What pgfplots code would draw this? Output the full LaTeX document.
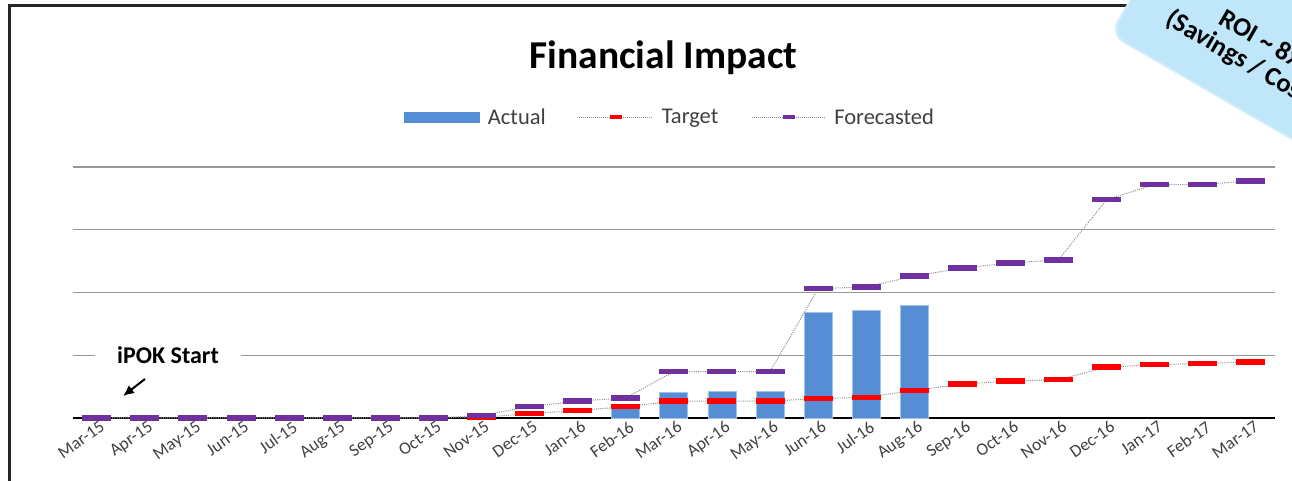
\documentclass[border=0pt]{standalone}
\usepackage{fontspec}
\setmainfont{Carlito}
\usepackage{pgfplots}
\pgfplotsset{compat=1.18}
\usepackage{pgfplotstable}
\usetikzlibrary{arrows.meta}

\definecolor{barblue}{RGB}{85,142,213}
\definecolor{tred}{RGB}{255,0,0}
\definecolor{fpurple}{RGB}{112,48,160}
\definecolor{gridgray}{RGB}{150,150,150}
\definecolor{dotgray}{RGB}{140,140,140}
\definecolor{ticktext}{RGB}{64,64,64}
\definecolor{roiblue}{RGB}{192,230,250}

\pgfplotstableread{
x y
11 0.20
12 0.41
13 0.43
14 0.43
15 1.68
16 1.72
17 1.79
}\actual

\pgfplotstableread{
x y
0 0
1 0
2 0
3 0
4 0
5 0
6 0
7 0
8 0.01
9 0.07
10 0.12
11 0.18
12 0.27
13 0.27
14 0.27
15 0.31
16 0.33
17 0.44
18 0.54
19 0.59
20 0.61
21 0.81
22 0.85
23 0.87
24 0.89
}\target

\pgfplotstableread{
x y
0 0
1 0
2 0
3 0
4 0
5 0
6 0
7 0
8 0.04
9 0.18
10 0.27
11 0.32
12 0.74
13 0.74
14 0.74
15 2.06
16 2.09
17 2.26
18 2.39
19 2.47
20 2.52
21 3.48
22 3.72
23 3.72
24 3.78
}\forecast

\begin{document}
\begin{tikzpicture}[x=1pt,y=1pt]
% outer frame
\draw[line width=2.5pt, black!85] (9.7,-60) -- (9.7,475.7) -- (1400,475.7);

\begin{axis}[
  at={(72.75pt,63pt)}, anchor=south west,
  scale only axis, width=1202.2pt, height=251pt,
  xmin=-0.5, xmax=24.5, ymin=0, ymax=4,
  axis line style={draw=none},
  tick style={draw=none},
  major tick length=0pt,
  ytick={1,2,3,4}, yticklabels={},
  ymajorgrids, grid style={gridgray, line width=1.3pt},
  extra y ticks={0}, extra y tick labels={},
  extra y tick style={grid style={black, line width=1.5pt}},
  xtick={0,...,24},
  xticklabels={Mar-15,Apr-15,May-15,Jun-15,Jul-15,Aug-15,Sep-15,Oct-15,Nov-15,Dec-15,Jan-16,Feb-16,Mar-16,Apr-16,May-16,Jun-16,Jul-16,Aug-16,Sep-16,Oct-16,Nov-16,Dec-16,Jan-17,Feb-17,Mar-17},
  xticklabel style={rotate=35, anchor=north east, inner sep=0pt, yshift=-3pt, xshift=1pt, font=\fontsize{17.5}{17.5}\selectfont, text=ticktext},
  clip=false,
  legend style={at={(0.2755,1.199)}, anchor=west, draw=none, fill=none,
    legend columns=3, inner sep=0pt, font=\fontsize{22.5}{24}\selectfont, text=ticktext,
    nodes={inner sep=0pt},
    /tikz/every odd column/.append style={column sep=8pt},
    /tikz/every even column/.append style={column sep=33pt}},
]
\addplot[ybar, bar width=28pt, fill=barblue, draw=barblue!55!white, line width=0.8pt,
  legend image code/.code={\fill[barblue] (0pt,-5pt) rectangle (75pt,5pt);}]
  table[x=x,y=y] {\actual};
\addlegendentry{Actual}
\addplot[dotgray, line width=1pt, dash pattern=on 1pt off 1.2pt,
  mark=-, mark size=14.5pt, mark options={solid, draw=tred, line width=5.5pt},
  legend image code/.code={\draw[dotgray, line width=1pt, dash pattern=on 1pt off 1pt] (0pt,0pt) -- (74pt,0pt);
    \draw[solid, tred, line width=3.5pt] (31pt,0pt) -- (43pt,0pt);}]
  table[x=x,y=y] {\target};
\addlegendentry{Target}
\addplot[dotgray, line width=1pt, dash pattern=on 1pt off 1.2pt,
  mark=-, mark size=14.5pt, mark options={solid, draw=fpurple, line width=5.5pt},
  legend image code/.code={\draw[dotgray, line width=1pt, dash pattern=on 1pt off 1pt] (0pt,0pt) -- (74pt,0pt);
    \draw[solid, fpurple, line width=3.5pt] (31pt,0pt) -- (43pt,0pt);}]
  table[x=x,y=y] {\forecast};
\addlegendentry{Forecasted}
\end{axis}

% title
\node[anchor=base, font=\bfseries\fontsize{39.5}{39.5}\selectfont] at (663.5,412.7) {Financial Impact};

% iPOK Start annotation
\node[fill=white, inner xsep=22pt, inner ysep=3pt, font=\bfseries\fontsize{24}{24}\selectfont] at (168,126) {iPOK Start};
\draw[-{Latex[length=11pt,width=10pt]}, line width=2pt] (145,102) -- (123,85);

% ROI box (cut off at the right edge)
\begin{scope}[shift={(1112,447)}, rotate=-30]
  \fill[roiblue!70!white, rounded corners=16pt] (-2,-2) rectangle (362,182);
  \fill[roiblue, rounded corners=15pt] (0,0) rectangle (360,180);
  \node[transform shape, anchor=base west, inner sep=0pt, font=\bfseries\fontsize{26.5}{26.5}\selectfont] at (86,62) {ROI \textasciitilde{} 8x};
  \node[transform shape, anchor=base west, inner sep=0pt, font=\bfseries\fontsize{26.5}{26.5}\selectfont] at (40,35) {(Savings / Cost)};
\end{scope}

\pgfresetboundingbox
\useasboundingbox (0,0) rectangle (1292,481);
\end{tikzpicture}
\end{document}
